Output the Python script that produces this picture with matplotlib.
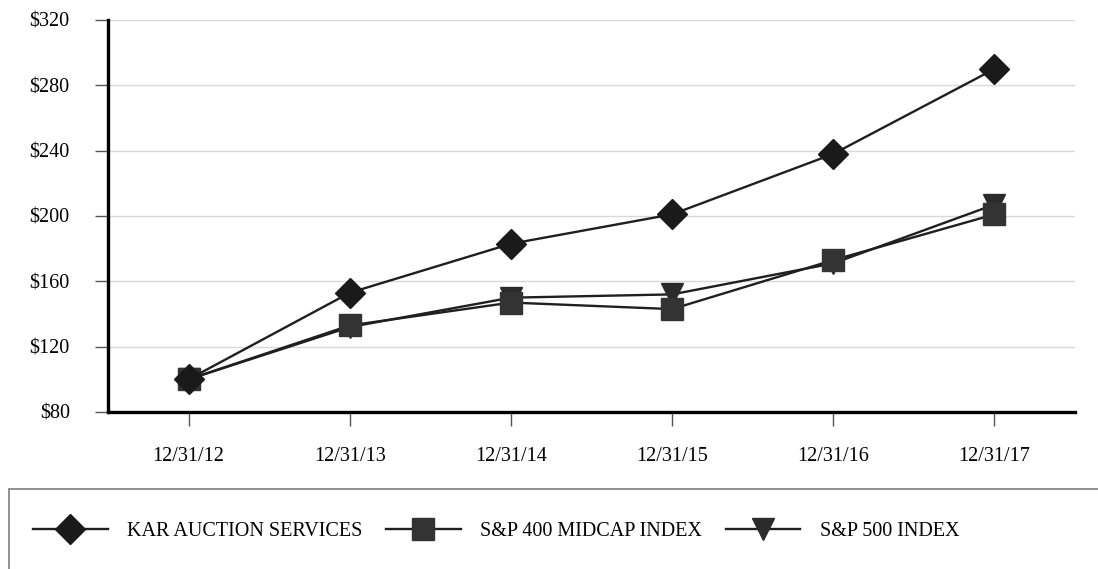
import matplotlib.pyplot as plt
from matplotlib.patches import Rectangle

plt.rcParams['font.family'] = ['Liberation Serif', 'DejaVu Serif']

# data
dates = ['12/31/12', '12/31/13', '12/31/14', '12/31/15', '12/31/16', '12/31/17']
kar = [100, 153, 183, 201, 238, 290]
midcap = [100, 133, 147, 143, 173, 201]
sp500 = [100, 132, 150, 152, 171, 207]
y_ticks = [80, 120, 160, 200, 240, 280, 320]

fig = plt.figure(figsize=(10.98, 5.69), dpi=100)
ax = fig.add_axes([108 / 1098, 1 - 412 / 569, (1075 - 108) / 1098, (412 - 20) / 569])

x = list(range(len(dates)))
line_c = '#1f1f1f'

# S&P 500 drawn first, then midcap, then KAR on top
ax.plot(x, sp500, color=line_c, lw=1.7, marker='v', ms=16,
        mfc='#2b2b2b', mec='#2b2b2b', label='S&P 500 INDEX', zorder=3)
ax.plot(x, midcap, color=line_c, lw=1.7, marker='s', ms=16,
        mfc='#333333', mec='#333333', label='S&P 400 MIDCAP INDEX', zorder=4)
ax.plot(x, kar, color=line_c, lw=1.7, marker='D', ms=15,
        mfc='#1a1a1a', mec='#1a1a1a', label='KAR AUCTION SERVICES', zorder=5)

ax.set_xlim(-0.5, 5.5)
ax.set_ylim(80, 320)
ax.set_yticks(y_ticks)
ax.set_yticklabels(['$' + str(v) for v in y_ticks])
ax.set_xticks(x)
ax.set_xticklabels(dates)

ax.grid(axis='y', color='#d9d9d9', lw=1)
ax.set_axisbelow(True)

for s in ['top', 'right']:
    ax.spines[s].set_visible(False)
for s in ['left', 'bottom']:
    ax.spines[s].set_linewidth(2.4)
    ax.spines[s].set_color('black')

ax.tick_params(axis='y', length=9.5, width=1, color='#555555', pad=18, labelsize=14.5)
ax.tick_params(axis='x', length=10, width=1, color='#555555', pad=15, labelsize=14.5)

# legend box running off the figure edge
fig.patches.append(Rectangle((9 / 1098, -0.1), 1.2, 1 - 489 / 569 + 0.1,
                             transform=fig.transFigure, fill=False,
                             edgecolor='#888888', lw=1.3, clip_on=False))

h, l = ax.get_legend_handles_labels()
fig.legend(h[::-1], l[::-1], loc='center left',
           bbox_to_anchor=(33 / 1098, 1 - 531 / 569), ncol=3, frameon=False,
           fontsize=14.5, handlelength=3.7, handletextpad=0.95, columnspacing=1.2,
           borderpad=0, borderaxespad=0)

fig.savefig('out.png', dpi=100)
